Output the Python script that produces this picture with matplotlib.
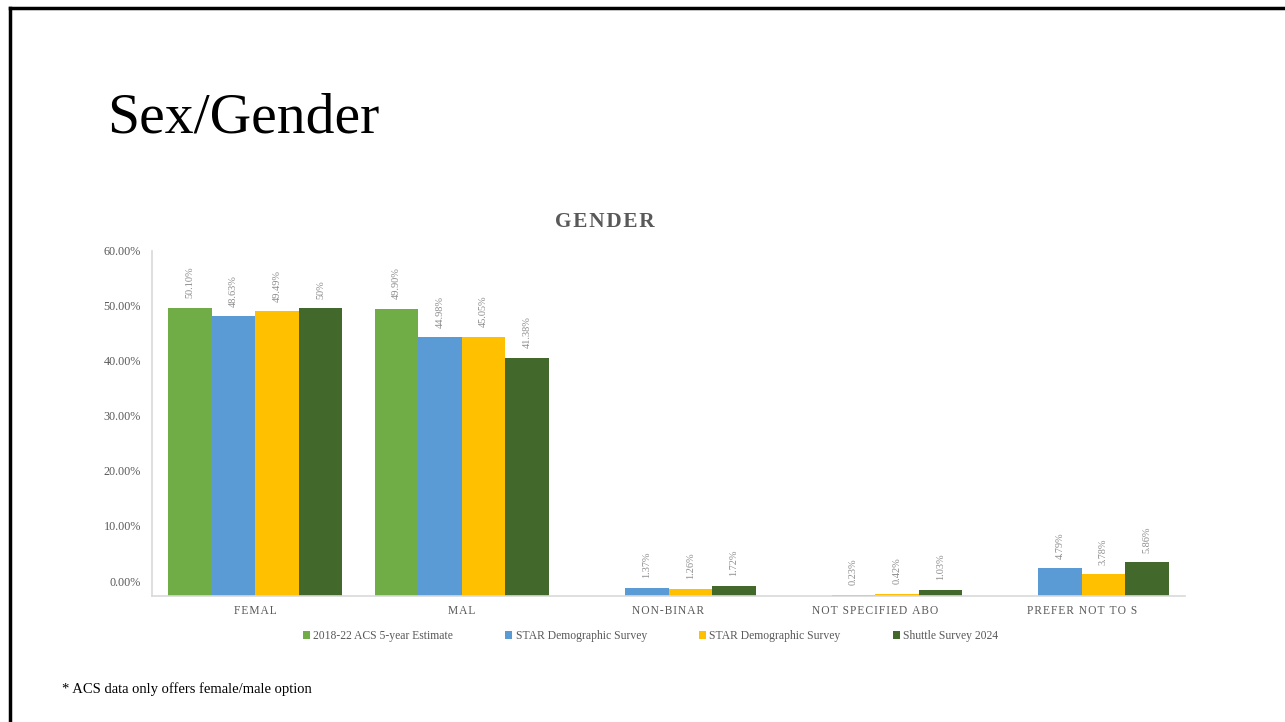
import matplotlib.pyplot as plt
import matplotlib.lines as mlines
import numpy as np

# gender breakdown (percent) for each source
categories = ['FEMAL', 'MAL', 'NON-BINAR', 'NOT SPECIFIED ABO', 'PREFER NOT TO S']
series_names = ['2018-22 ACS 5-year Estimate', 'STAR Demographic Survey',
                'STAR Demographic Survey', 'Shuttle Survey 2024']
acs = [50.10, 49.90, np.nan, np.nan, np.nan]
star_a = [48.63, 44.98, 1.37, 0.23, 4.79]
star_b = [49.49, 45.05, 1.26, 0.42, 3.78]
shuttle = [50, 41.38, 1.72, 1.03, 5.86]
y_ticks = [0, 10, 20, 30, 40, 50, 60]

colors = ['#70AD47', '#5B9BD5', '#FFC000', '#43682B']
serif = ['Liberation Serif', 'DejaVu Serif']
plt.rcParams['font.family'] = serif


def spaced(s):
    # loose tracking, hair space between letters
    return '\u200a'.join(s)


fig = plt.figure(figsize=(12.85, 7.22), dpi=100)

# slide frame (top and left edges only)
fig.add_artist(mlines.Line2D([0.0075, 1.0], [0.9895, 0.9895], color='black', lw=2.5))
fig.add_artist(mlines.Line2D([0.0075, 0.0075], [0.0, 0.9895], color='black', lw=2.5))

fig.text(0.083, 0.836, 'Sex/Gender', fontsize=41.5, color='black', va='center', ha='left')
fig.text(0.471, 0.693, spaced('GENDER'), fontsize=15.3, fontweight='bold', color='#595959',
         ha='center', va='center')
fig.text(0.048, 0.045, '* ACS data only offers female/male option', fontsize=10.5,
         color='black', ha='left', va='center')

ax = fig.add_axes([0.1183, 0.1745, 0.8039, 0.478])
x = np.arange(len(categories))
w = 0.2106
all_series = [acs, star_a, star_b, shuttle]
for i, (vals, c, name) in enumerate(zip(all_series, colors, series_names)):
    bars = ax.bar(x + (i - 1.5) * w, vals, width=w, color=c, label=name)
    labels = []
    for v in vals:
        if np.isnan(v):
            labels.append('')
        elif float(v).is_integer():
            labels.append('%d%%' % v)
        else:
            labels.append('%.2f%%' % v)
    ax.bar_label(bars, labels=labels, rotation=90, padding=7, fontsize=7.4,
                 color='#8C8C8C')

ax.set_xlim(-0.5, len(categories) - 0.5)
ax.set_ylim(0, 60)
ax.set_yticks([])
ax.set_xticks(x)
ax.set_xticklabels([spaced(c) for c in categories], fontsize=8.3, color='#595959')
ax.tick_params(axis='x', length=0, pad=6.5)
for s in ['top', 'right']:
    ax.spines[s].set_visible(False)
ax.spines['left'].set_color('#D9D9D9')
ax.spines['bottom'].set_color('#D9D9D9')
ax.spines['left'].set_linewidth(1.2)
ax.spines['bottom'].set_linewidth(1.2)

# percentage scale drawn on its own axis, offset above the baseline
ax2 = ax.twinx()
ax2.set_ylim(-2.727, 60)
ax2.yaxis.tick_left()
ax2.set_yticks(y_ticks)
ax2.set_yticklabels(['%.2f%%' % t for t in y_ticks], fontsize=8.7, color='#595959')
ax2.tick_params(axis='y', length=0, pad=8)
for s in ax2.spines.values():
    s.set_visible(False)

leg = ax.legend(loc='upper center', bbox_to_anchor=(0.4826, -0.068), ncol=4, frameon=False,
                fontsize=8.4, handlelength=0.6, handleheight=0.6, handletextpad=0.3,
                columnspacing=4.45)
for t in leg.get_texts():
    t.set_color('#595959')

fig.savefig('out.png', dpi=100)
